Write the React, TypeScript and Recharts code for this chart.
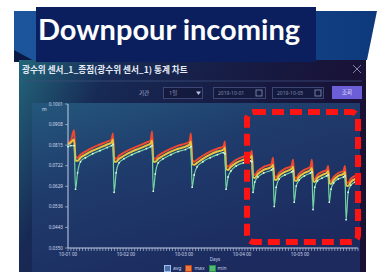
import React from 'react';
import { LineChart, Line, XAxis, YAxis } from 'recharts';

const times = [
  0, 1, 2.1, 2.6, 3.3, 4.3, 6, 8.5, 11, 13.5, 15,
  15.5, 15.9, 16.6, 17.6, 19.3, 22, 24.5, 27, 28.5,
  29, 29.4, 30.1, 31.1, 32.8, 35.5, 38, 40.5, 41.9,
  42.4, 42.8, 43.5, 44.5, 46.5, 49, 51.5, 53.6,
  54.1, 54.5, 55.2, 56.2, 58, 60.5, 62.9,
  63.4, 63.8, 64.4, 65.5, 67.5, 70.2,
  70.7, 71.1, 71.8, 72.8, 74.8, 77.1,
  77.6, 78, 78.7, 79.7, 81.5, 83.6,
  84.1, 84.5, 85.1, 86, 87.6, 89.2,
  89.7, 90.1, 90.7, 91.6, 93.2, 95,
  95.5, 95.9, 96.6, 97.5, 99,
];

const maxVals = [
  0.0827, 0.0836, 0.0882, 0.0763, 0.0758, 0.0772, 0.0786, 0.0804, 0.0818, 0.0831, 0.0840,
  0.0868, 0.0758, 0.0753, 0.0767, 0.0781, 0.0799, 0.0813, 0.0827, 0.0836,
  0.0877, 0.0758, 0.0753, 0.0767, 0.0781, 0.0799, 0.0813, 0.0822, 0.0831,
  0.0868, 0.0749, 0.0740, 0.0749, 0.0767, 0.0786, 0.0799, 0.0808,
  0.0831, 0.0726, 0.0717, 0.0730, 0.0749, 0.0763, 0.0772,
  0.0790, 0.0685, 0.0680, 0.0698, 0.0717, 0.0730,
  0.0758, 0.0676, 0.0671, 0.0689, 0.0708, 0.0721,
  0.0749, 0.0671, 0.0666, 0.0685, 0.0703, 0.0717,
  0.0749, 0.0666, 0.0662, 0.0680, 0.0694, 0.0703,
  0.0721, 0.0657, 0.0653, 0.0671, 0.0689, 0.0698,
  0.0721, 0.0648, 0.0644, 0.0662, 0.0676,
];

const avgVals = [
  0.0818, 0.0827, 0.0840, 0.0744, 0.0744, 0.0758, 0.0772, 0.0790, 0.0804, 0.0818, 0.0827,
  0.0840, 0.0740, 0.0740, 0.0753, 0.0767, 0.0786, 0.0799, 0.0813, 0.0822,
  0.0836, 0.0740, 0.0740, 0.0753, 0.0767, 0.0786, 0.0799, 0.0808, 0.0818,
  0.0831, 0.0730, 0.0726, 0.0735, 0.0753, 0.0772, 0.0786, 0.0795,
  0.0804, 0.0708, 0.0703, 0.0717, 0.0735, 0.0749, 0.0758,
  0.0767, 0.0671, 0.0666, 0.0685, 0.0703, 0.0717,
  0.0726, 0.0662, 0.0657, 0.0676, 0.0694, 0.0708,
  0.0717, 0.0657, 0.0653, 0.0671, 0.0689, 0.0703,
  0.0712, 0.0653, 0.0648, 0.0666, 0.0680, 0.0689,
  0.0698, 0.0644, 0.0639, 0.0657, 0.0676, 0.0685,
  0.0694, 0.0634, 0.0630, 0.0648, 0.0662,
];

const minVals = [
  0.0808, 0.0813, 0.0813, 0.0616, 0.0690, 0.0740, 0.0758, 0.0776, 0.0790, 0.0804, 0.0813,
  0.0818, 0.0602, 0.0690, 0.0735, 0.0753, 0.0772, 0.0786, 0.0799, 0.0808,
  0.0813, 0.0607, 0.0685, 0.0735, 0.0753, 0.0772, 0.0786, 0.0795, 0.0804,
  0.0808, 0.0625, 0.0680, 0.0717, 0.0740, 0.0758, 0.0772, 0.0781,
  0.0776, 0.0616, 0.0671, 0.0698, 0.0721, 0.0735, 0.0744,
  0.0740, 0.0602, 0.0648, 0.0671, 0.0689, 0.0703,
  0.0708, 0.0538, 0.0625, 0.0662, 0.0680, 0.0694,
  0.0698, 0.0557, 0.0630, 0.0657, 0.0676, 0.0689,
  0.0694, 0.0524, 0.0625, 0.0653, 0.0666, 0.0676,
  0.0680, 0.0557, 0.0616, 0.0644, 0.0662, 0.0671,
  0.0676, 0.0478, 0.0602, 0.0634, 0.0648,
];

const yTicks = [0.035, 0.0443, 0.0536, 0.0629, 0.0722, 0.0815, 0.0908, 0.1001];
const xMajorTicks = [0, 20, 40, 60, 80];
const xMajorLabels = ['10-01 00', '10-02 00', '10-03 00', '10-04 00', '10-05 00'];
const xMinorTicks = Array.from({ length: 101 }, (_, i) => i);

const seriesNames = ['avg', 'max', 'min'];

const data = times.map((t, i) => ({ t, max: maxVals[i], avg: avgVals[i], min: minVals[i] }));

const FONT = '"Noto Sans", "Noto Sans CJK KR", sans-serif';

export default function App() {
  return (
    <div style={{ position: 'absolute', left: 0, top: 0, width: 378, height: 274, background: '#ffffff', overflow: 'hidden', fontFamily: FONT }}>
      <svg width={378} height={274} style={{ position: 'absolute', left: 0, top: 0 }}>
        <defs>
          <linearGradient id="modalG" x1="0" y1="0" x2="1" y2="0.3">
            <stop offset="0" stopColor="#23667a" />
            <stop offset="0.25" stopColor="#172a55" />
            <stop offset="0.7" stopColor="#17183f" />
            <stop offset="1" stopColor="#1a0f34" />
          </linearGradient>
          <linearGradient id="bannerG" x1="0" y1="0" x2="1" y2="0">
            <stop offset="0" stopColor="#1d559c" />
            <stop offset="1" stopColor="#0e3a7c" />
          </linearGradient>
          <linearGradient id="innerG" x1="0" y1="0" x2="0.6" y2="1">
            <stop offset="0" stopColor="#24577c" />
            <stop offset="0.4" stopColor="#1f3c6c" />
            <stop offset="1" stopColor="#1c2a5e" />
          </linearGradient>
        </defs>
        <polygon points="14,11 377,11 367,60 14,60" fill="url(#bannerG)" />
        <polygon points="14,50 36,62 14,62" fill="#0a1a44" />
        <rect x={19} y={60} width={347} height={212} fill="url(#modalG)" />
        <line x1={24} y1={81} x2={362} y2={81} stroke="#3d4f7c" strokeWidth={0.8} />
        <rect x={32} y={103} width={328} height={169} fill="url(#innerG)" />
        <rect x={163.5} y={87.5} width={39} height={11} fill="#141a3e" stroke="#3e4675" />
        <rect x={213.5} y={87.5} width={52} height={11} fill="#141a3e" stroke="#3e4675" />
        <rect x={272.5} y={87.5} width={51} height={11} fill="#141a3e" stroke="#3e4675" />
        <rect x={256} y={90} width={6} height={6} fill="none" stroke="#8a93b8" strokeWidth={0.8} />
        <rect x={315} y={90} width={6} height={6} fill="none" stroke="#8a93b8" strokeWidth={0.8} />
        <polygon points="196,91.5 201,91.5 198.5,95" fill="#b8c0e0" />
        <rect x={332} y={86} width={30} height={13} fill="#6c5ed6" />
        <path d="M353,65 L361,73 M361,65 L353,73" stroke="#7c83a6" strokeWidth={1} />
      </svg>

      <div style={{ position: 'absolute', left: 36, top: 7, width: 280, height: 55, background: '#0b1f5e' }} />
      <div style={{ position: 'absolute', left: 38, top: 11, fontFamily: 'Lato, "Noto Sans", sans-serif', fontWeight: 700, fontSize: 29, color: '#ffffff', lineHeight: '36px', whiteSpace: 'nowrap' }}>
        Downpour incoming
      </div>

      <div style={{ position: 'absolute', left: 22, top: 63, fontFamily: '"Noto Sans CJK KR", sans-serif', fontWeight: 700, fontSize: 8.6, color: '#e6ecf7', lineHeight: '12px', whiteSpace: 'nowrap' }}>
        광수위 센서_1_종점(광수위 센서_1) 통계 차트
      </div>

      <div style={{ position: 'absolute', left: 139, top: 88, fontSize: 5.5, color: '#aab3d6', lineHeight: '10px' }}>기간</div>
      <div style={{ position: 'absolute', left: 169, top: 88, fontSize: 5.5, color: '#8a93b8', lineHeight: '10px' }}>1일</div>
      <div style={{ position: 'absolute', left: 218, top: 88, fontSize: 5, color: '#7e88ad', lineHeight: '10px' }}>2019-10-01</div>
      <div style={{ position: 'absolute', left: 277, top: 88, fontSize: 5, color: '#7e88ad', lineHeight: '10px' }}>2019-10-05</div>
      <div style={{ position: 'absolute', left: 332, top: 87, width: 30, textAlign: 'center', fontSize: 5.5, color: '#e0e4ff', lineHeight: '11px' }}>조회</div>

      <div style={{ position: 'absolute', left: 42, top: 105, fontSize: 5, color: '#d8e0f0', lineHeight: '8px' }}>m</div>

      <div style={{ position: 'absolute', left: 33, top: 98 }}>
        <LineChart width={330} height={162} data={data} margin={{ top: 6, right: 5, bottom: 0, left: 4 }}>
          <XAxis
            type="number"
            dataKey="t"
            domain={[0, 100]}
            ticks={xMinorTicks}
            interval={0}
            tickSize={3}
            height={12}
            stroke="#c5d0e6"
            tickLine={{ stroke: '#c5d0e6', strokeWidth: 0.6 }}
            tick={{ fill: '#d4dcee', fontSize: 4.6 }}
            tickFormatter={(v: number) => {
              const k = xMajorTicks.indexOf(v);
              return k >= 0 ? xMajorLabels[k] : '';
            }}
          />
          <YAxis
            type="number"
            domain={[0.035, 0.1001]}
            ticks={yTicks}
            interval={0}
            width={31}
            tickSize={3}
            stroke="#c5d0e6"
            tickLine={{ stroke: '#c5d0e6', strokeWidth: 0.6 }}
            tick={{ fill: '#d4dcee', fontSize: 4.6 }}
            tickFormatter={(v: number) => v.toFixed(4)}
          />
          <Line type="monotone" dataKey="max" stroke="#f0482e" strokeWidth={2} dot={false} isAnimationActive={false} />
          <Line type="monotone" dataKey="avg" stroke="#e9c43e" strokeWidth={2} dot={false} isAnimationActive={false} />
          <Line type="monotone" dataKey="min" stroke="#74d3a4" strokeWidth={1.2} dot={{ r: 0.9, fill: '#d8fbe2', stroke: 'none' }} isAnimationActive={false} />
        </LineChart>
      </div>

      <svg width={378} height={274} style={{ position: 'absolute', left: 0, top: 0, pointerEvents: 'none' }}>
        <rect x={247} y={112} width={111} height={130} rx={7} fill="none" stroke="#ff1414" strokeWidth={6} strokeDasharray="12 6" />
      </svg>

      <div style={{ position: 'absolute', left: 200, top: 256, width: 30, textAlign: 'center', fontSize: 4.6, color: '#c8d2ea', lineHeight: '6px' }}>Days</div>
      <div style={{ position: 'absolute', left: 164, top: 264, display: 'flex', alignItems: 'center', fontSize: 5, color: '#c8d2ea', lineHeight: '8px' }}>
        <span style={{ display: 'inline-block', width: 5, height: 5, border: '1px solid #9cc0ee', background: '#4d6fa8', marginRight: 2 }} />
        <span style={{ marginRight: 4 }}>{seriesNames[0]}</span>
        <span style={{ display: 'inline-block', width: 5, height: 5, border: '1px solid #b8451e', background: '#f07a3a', marginRight: 2 }} />
        <span style={{ marginRight: 4 }}>{seriesNames[1]}</span>
        <span style={{ display: 'inline-block', width: 5, height: 5, border: '1px solid #2f8a4e', background: '#4cbf6e', marginRight: 2 }} />
        <span>{seriesNames[2]}</span>
      </div>
    </div>
  );
}
